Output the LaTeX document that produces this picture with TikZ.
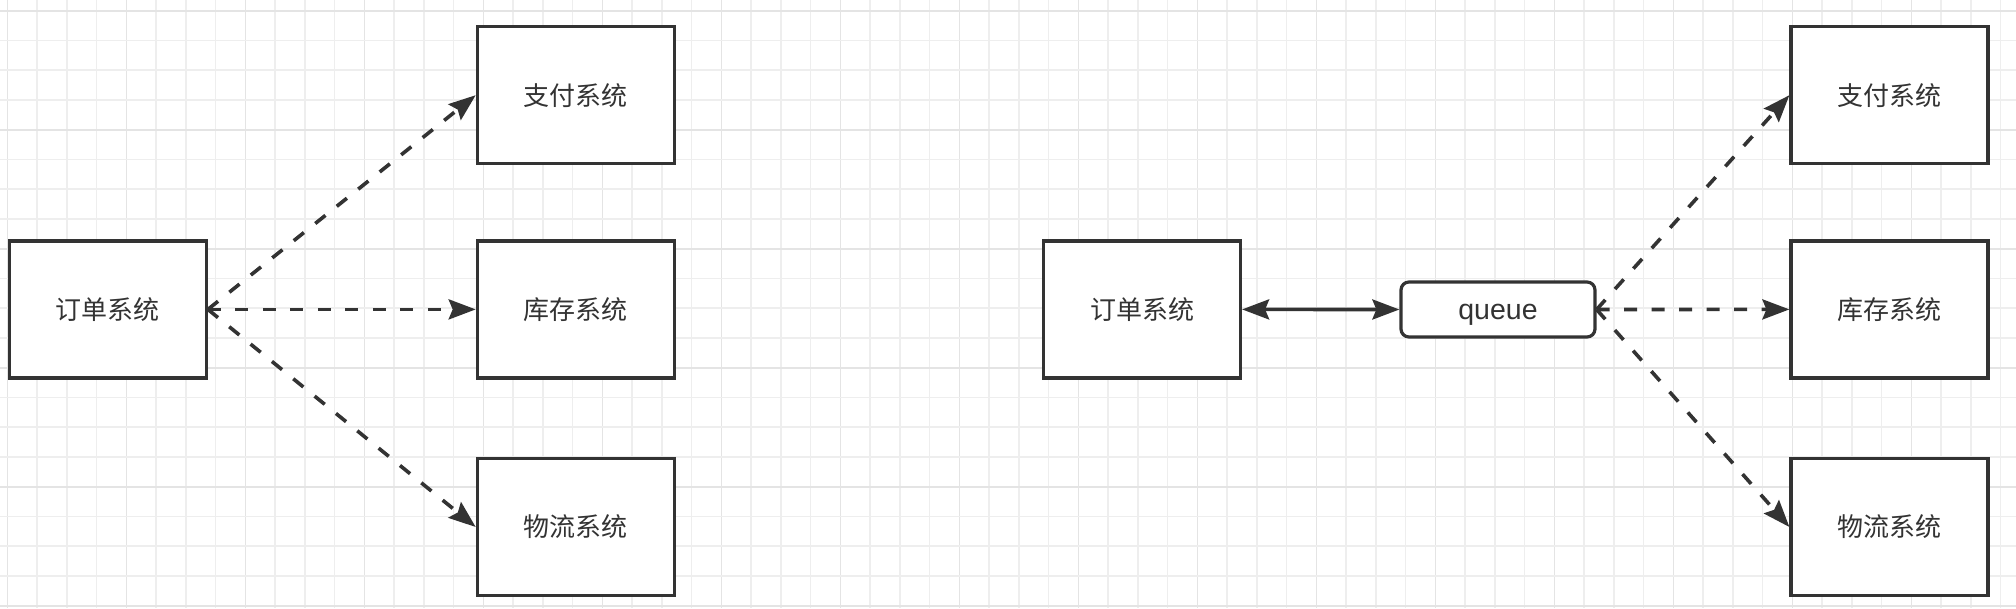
\documentclass[tikz,border=0pt]{standalone}
\usepackage{fontspec}
\setmainfont{Liberation Sans}
\newfontfamily\cjk{Noto Sans CJK SC}
\usetikzlibrary{arrows.meta}
\definecolor{ink}{HTML}{333333}
\definecolor{gridminor}{HTML}{EEEEEE}
\definecolor{gridmajor}{HTML}{E4E4E4}
\tikzset{
  sysbox/.style={draw=ink, fill=white, line width=3.2pt, minimum width=197pt, minimum height=137pt,
    inner sep=0pt, text=ink, font=\cjk\fontsize{26}{30}\selectfont},
  queuebox/.style={draw=ink, fill=white, line width=3.2pt, rounded corners=8pt, minimum width=194pt,
    minimum height=55pt, inner sep=0pt, text=ink, font=\fontsize{28.5}{30}\selectfont},
  tip/.tip={Stealth[length=27pt,width=20pt,inset=4pt]},
  dashlink/.style={draw=ink, line width=3.6pt, dash pattern=on 13pt off 14.5pt, -tip},
  solidlink/.style={draw=ink, line width=3.6pt, tip-tip},
  gminor/.style={draw=gridminor, line width=1.6pt},
  gmajor/.style={draw=gridmajor, line width=1.6pt}
}
\begin{document}
\begin{tikzpicture}[x=1pt, y=-1pt]
\useasboundingbox (0,0) rectangle (2016,608);
\fill[white] (0,0) rectangle (2016,608);
% grid
\foreach \k in {0,...,67} {
  \pgfmathsetmacro\xx{7.3+\k*29.75}
  \pgfmathtruncatemacro\m{mod(\k,4)}
  \ifnum\m=0 \draw[gmajor] (\xx,0) -- (\xx,608); \else \draw[gminor] (\xx,0) -- (\xx,608); \fi
}
\foreach \k in {0,...,20} {
  \pgfmathsetmacro\yy{10.7+\k*29.75}
  \pgfmathtruncatemacro\m{mod(\k,4)}
  \ifnum\m=0 \draw[gmajor] (0,\yy) -- (2016,\yy); \else \draw[gminor] (0,\yy) -- (2016,\yy); \fi
}
% left diagram
\node[sysbox] (lorder) at (107.8,309.4) {订单系统};
\node[sysbox] (lpay)   at (575.8,95.2)  {支付系统};
\node[sysbox] (lstock) at (575.8,309.4) {库存系统};
\node[sysbox] (llog)   at (575.8,527)   {物流系统};
\draw[dashlink] (lorder.east) -- (lpay.west);
\draw[dashlink] (lorder.east) -- (lstock.west);
\draw[dashlink] (lorder.east) -- (llog.west);
% right diagram
\node[sysbox] (rorder) at (1142,309.4) {订单系统};
\node[queuebox] (queue) at (1498,309.5) {\raisebox{-9.8pt}[0pt][0pt]{queue}};
\node[sysbox] (rpay)   at (1889.5,95.2)  {支付系统};
\node[sysbox] (rstock) at (1889.5,309.4) {库存系统};
\node[sysbox] (rlog)   at (1889.5,527)   {物流系统};
\draw[solidlink] (rorder.east) -- (queue.west);
\draw[dashlink] (queue.east) -- (rpay.west);
\draw[dashlink] (queue.east) -- (rstock.west);
\draw[dashlink] (queue.east) -- (rlog.west);
\end{tikzpicture}
\end{document}
